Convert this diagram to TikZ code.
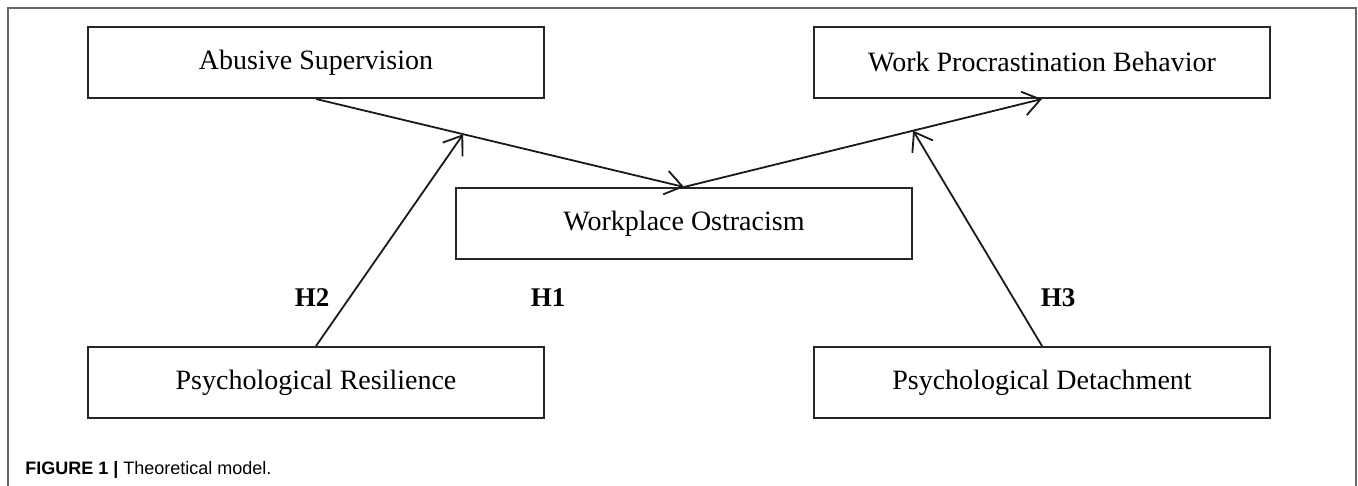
\documentclass[tikz,border=0pt]{standalone}
\usepackage{fontspec}
\setmainfont{Liberation Serif}
\newfontfamily\capfont{Liberation Sans}
\usetikzlibrary{arrows.meta}

\begin{document}
\begin{tikzpicture}[x=0.5pt,y=-0.5pt,>={Straight Barb[length=8.5pt,width=12pt]},
  var/.style={draw=black!85,line width=1pt,minimum width=228pt,minimum height=35.5pt,inner sep=0pt,
    font=\fontsize{14}{17}\selectfont},
  hyp/.style={font=\fontsize{13.5}{16}\selectfont\bfseries},
  arr/.style={->,line width=0.9pt,draw=black!90}]
\useasboundingbox (0,0) rectangle (1358,486);
\draw[color=black!60,line width=0.8pt] (8,486) -- (8,8) -- (1356,8) -- (1356,486);
% variables
\node (abuse) at (316,62.5) [var] {Abusive Supervision};
\node (procr) at (1042,62.5) [var] {Work Procrastination Behavior};
\node (ostra) at (684,223.5) [var] {Workplace Ostracism};
\node (resil) at (316,382.5) [var] {Psychological Resilience};
\node (detach) at (1042,382.5) [var] {Psychological Detachment};
% paths
\draw[arr] (abuse.south) -- coordinate[pos=0.4] (m1) (ostra.north);
\draw[arr] (ostra.north) -- coordinate[pos=0.64] (m2) (procr.south);
\draw[arr] (resil.north) -- (m1);
\draw[arr] (detach.north) -- (m2);
% hypotheses
\node (h2) at (312,298) [hyp] {H2};
\node (h1) at (548,298) [hyp] {H1};
\node (h3) at (1058,298) [hyp] {H3};
\node (cap) at (25,470) [anchor=west,inner sep=0pt,font=\capfont\fontsize{9}{11}\selectfont]
  {\textbf{FIGURE 1 |} Theoretical model.};
\end{tikzpicture}
\end{document}
